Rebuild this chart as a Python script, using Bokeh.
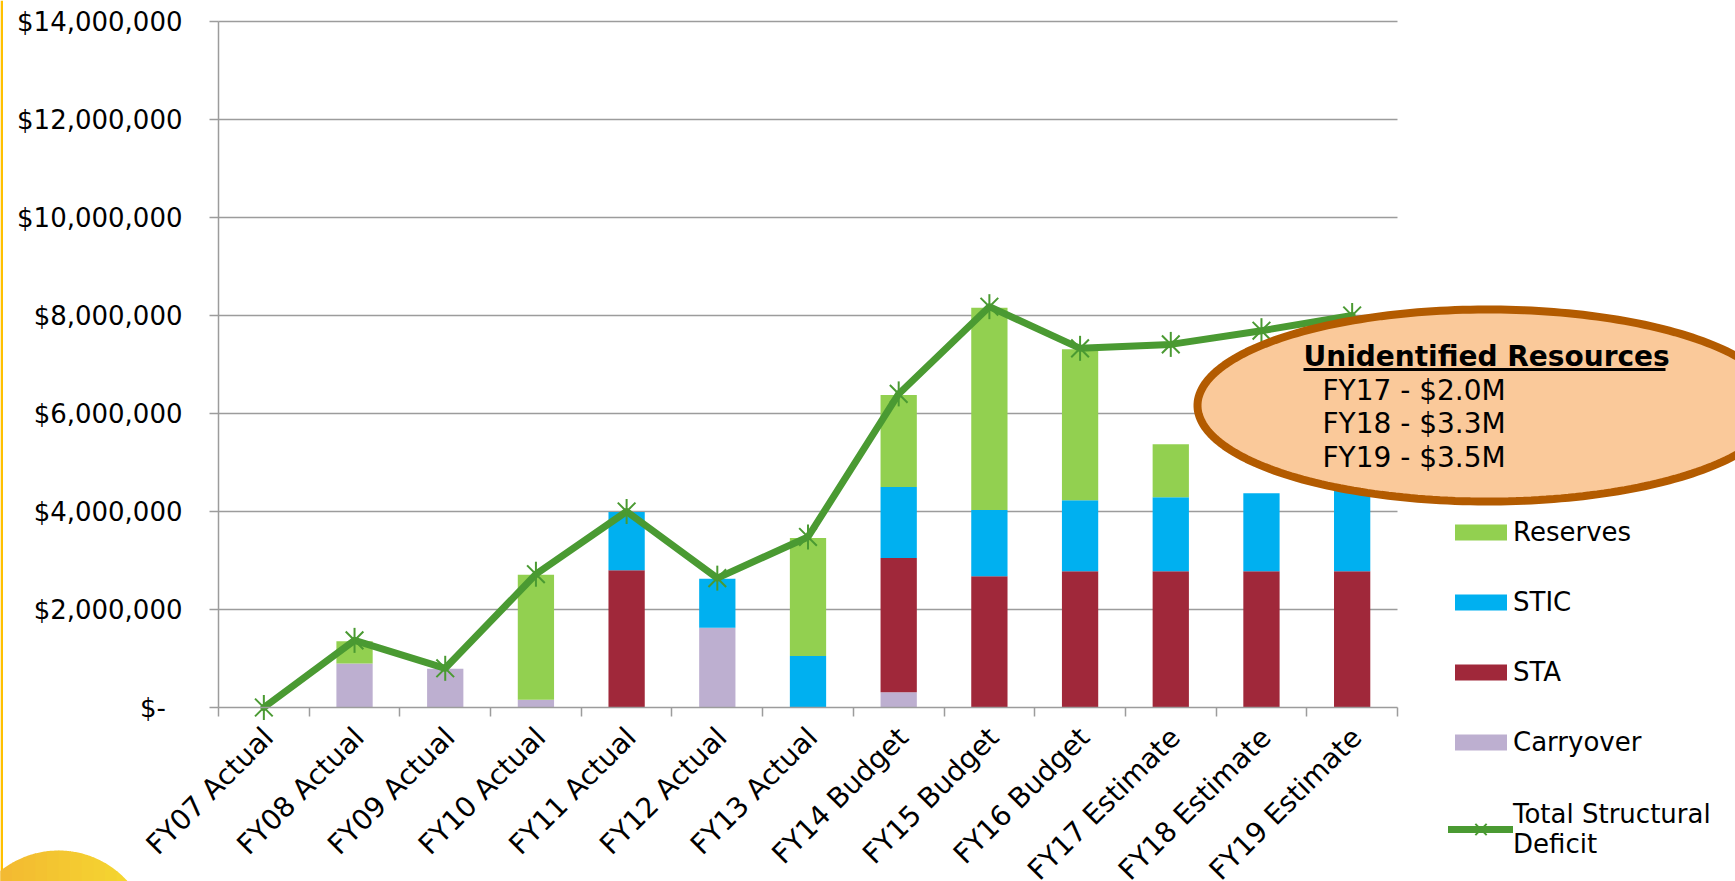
import numpy as np
from math import pi
from bokeh.plotting import figure
from bokeh.models import (ColumnDataSource, Range1d, FixedTicker, NumeralTickFormatter,
                          Legend, LegendItem, PolyAnnotation, BoxAnnotation, Label)
from bokeh.embed import file_html
from bokeh.resources import INLINE

# ---------------- data ----------------
categories = ["FY07 Actual", "FY08 Actual", "FY09 Actual", "FY10 Actual", "FY11 Actual",
              "FY12 Actual", "FY13 Actual", "FY14 Budget", "FY15 Budget", "FY16 Budget",
              "FY17 Estimate", "FY18 Estimate", "FY19 Estimate"]
carryover = [0, 900000, 790000, 160000, 0, 1630000, 0, 310000, 0, 0, 0, 0, 0]
sta = [0, 0, 0, 0, 2800000, 0, 0, 2740000, 2680000, 2780000, 2780000, 2780000, 2780000]
stic = [0, 0, 0, 0, 1190000, 1000000, 1050000, 1450000, 1350000, 1450000, 1510000, 1590000, 1720000]
reserves = [0, 450000, 0, 2550000, 0, 0, 2410000, 1880000, 4130000, 3080000, 1080000, 0, 0]
total_deficit = [0, 1370000, 800000, 2720000, 4000000, 2640000, 3480000, 6400000, 8180000,
                 7330000, 7410000, 7690000, 8000000]
y_ticks = [0, 2000000, 4000000, 6000000, 8000000, 10000000, 12000000, 14000000]
series_names = ["Carryover", "STA", "STIC", "Reserves"]
line_name = "Total Structural\nDeficit"
note_title = "Unidentified Resources"
note_lines = ["FY17 - $2.0M", "FY18 - $3.3M", "FY19 - $3.5M"]

# ---------------- style / layout ----------------
FONT = "DejaVu Sans"
colors = ["#BDAFD0", "#A0283A", "#00B0F0", "#92D050"]
GREEN = "#4A9A32"
GRID = "#9C9C9C"
W, H = 1735, 881
PL, PR, PT, PB = 218, 1397, 21, 707      # plot area (pixels) inside the canvas
LABEL_SHIFT = 0.05                        # shift of rotated category labels (category units)

n = len(categories)
xc = np.arange(n) + 0.5
ppx = (PR - PL) / n
ppy = (PB - PT) / y_ticks[-1]
x_range = Range1d(-PL / ppx, (W - PL) / ppx)
y_range = Range1d(-(H - PB) / ppy, y_ticks[-1] + PT / ppy)

src = ColumnDataSource(dict(x=xc, carryover=carryover, sta=sta, stic=stic,
                            reserves=reserves, total=total_deficit))

p = figure(width=W, height=H, x_range=x_range, y_range=y_range,
           output_backend="svg", toolbar_location=None,
           min_border_left=0, min_border_right=0, min_border_top=0, min_border_bottom=0,
           outline_line_color=None, background_fill_color="white", border_fill_color="white")

# ---------------- slide decorations ----------------
p.add_layout(BoxAnnotation(left=0, right=2.5, top=0, bottom=H, left_units="canvas",
                           right_units="canvas", top_units="canvas", bottom_units="canvas",
                           fill_color="#FFC000", fill_alpha=1, line_alpha=0, level="underlay"))
ccx, ccy, cr = 58, 943, 93
c_left = np.array([242, 178, 50])
c_right = np.array([245, 218, 48])
edges = np.linspace(ccx - cr, ccx + cr, 17)
for k in range(16):
    xs_arc = np.linspace(edges[k], min(edges[k + 1] + 0.8, ccx + cr), 12)
    ys_arc = ccy - np.sqrt(np.maximum(cr ** 2 - (xs_arc - ccx) ** 2, 0))
    col = c_left + (c_right - c_left) * (k / 15)
    hexcol = "#%02x%02x%02x" % tuple(int(round(v)) for v in col)
    p.add_layout(PolyAnnotation(xs=list(xs_arc) + [xs_arc[-1], xs_arc[0]],
                                ys=list(ys_arc) + [H, H],
                                xs_units="canvas", ys_units="canvas", level="underlay",
                                fill_color=hexcol, fill_alpha=1, line_alpha=0))

# ---------------- data glyphs ----------------
keys = ["carryover", "sta", "stic", "reserves"]
bars = p.vbar_stack(keys, x="x", width=0.4, source=src, fill_color=colors, line_color=None)

line_r = p.line("x", "total", source=src, line_width=7, line_color=GREEN,
                line_join="round", line_cap="round")
x_r = p.scatter("x", "total", source=src, marker="x", size=25, line_color=GREEN, line_width=2)
d_r = p.scatter("x", "total", source=src, marker="dash", angle=pi / 2, size=25,
                line_color=GREEN, line_width=2)

# ---------------- y axis ----------------
yax = p.yaxis[0]
yax.fixed_location = 0
yax.bounds = (0, y_ticks[-1])
yax.ticker = FixedTicker(ticks=y_ticks, minor_ticks=[])
yax.formatter = NumeralTickFormatter(format="$0,0")
yax.major_label_overrides = {0: "$-\u00a0\u00a0"}
yax.major_label_text_font = FONT
yax.major_label_text_font_size = "26px"
yax.major_label_text_color = "black"
yax.major_tick_out = 9
yax.major_tick_in = 0
yax.minor_tick_line_color = None
yax.major_tick_line_color = GRID
yax.major_tick_line_width = 1.5
yax.axis_line_color = GRID
yax.axis_line_width = 1.5
yax.major_label_standoff = 27

# ---------------- x axis: labels at centres, ticks at boundaries ----------------
xax = p.xaxis[0]
xax.fixed_location = 0
xax.bounds = (0, n)
label_pos = [float(v) for v in (xc + LABEL_SHIFT)]
xax.ticker = FixedTicker(ticks=label_pos, minor_ticks=list(range(n + 1)))
xax.major_label_overrides = {v: c for v, c in zip(label_pos, categories)}
xax.major_label_orientation = pi / 4
xax.major_label_text_font = FONT
xax.major_label_text_font_size = "28px"
xax.major_label_text_color = "black"
xax.major_label_standoff = 16
xax.major_tick_out = 0
xax.major_tick_in = 0
xax.major_tick_line_color = None
xax.minor_tick_out = 9
xax.minor_tick_in = 0
xax.minor_tick_line_color = GRID
xax.minor_tick_line_width = 1.5
xax.axis_line_color = GRID
xax.axis_line_width = 1.5

# ---------------- horizontal grid limited to the category span ----------------
p.xgrid.grid_line_color = None
yg = p.ygrid[0]
yg.ticker = FixedTicker(ticks=y_ticks[1:], minor_ticks=[])
if "cross_bounds" in yg.properties():
    yg.bounds = (0, y_ticks[-1])
    yg.cross_bounds = (0, n)
    yg.grid_line_color = GRID
    yg.grid_line_width = 1.5
else:
    yg.grid_line_color = None
    p.segment(x0=0, x1=n, y0=y_ticks[1:], y1=y_ticks[1:], line_color=GRID,
              line_width=1.5, level="underlay")

# ---------------- legends ----------------
common = dict(orientation="vertical", glyph_width=65, label_standoff=0, padding=0, margin=0,
              border_line_color=None, background_fill_alpha=0, label_text_font=FONT,
              label_text_font_size="26px", label_text_color="black")
bar_items = [LegendItem(label=series_names[3], renderers=[bars[3]]),
             LegendItem(label=series_names[2], renderers=[bars[2]]),
             LegendItem(label=series_names[1], renderers=[bars[1]]),
             LegendItem(label=series_names[0], renderers=[bars[0]])]
p.add_layout(Legend(items=bar_items, location=(1448, 124), glyph_height=20,
                    label_height=20, spacing=40, **common))
p.add_layout(Legend(items=[LegendItem(label=line_name, renderers=[line_r, x_r, d_r])],
                    location=(1448, 22), glyph_height=40, label_height=20, spacing=0,
                    **common))

# ---------------- callout ellipse ----------------
tt = np.linspace(0, 2 * pi, 240)
p.add_layout(PolyAnnotation(xs=list(1487 + 290 * np.cos(tt)), ys=list(405 + 96 * np.sin(tt)),
                            xs_units="canvas", ys_units="canvas",
                            fill_color="#FAC99A", fill_alpha=1,
                            line_color="#B35B00", line_alpha=1, line_width=8))
p.add_layout(Label(x=1303, y=356, x_units="canvas", y_units="canvas", text=note_title,
                   text_font=FONT, text_font_style="bold", text_font_size="28px",
                   text_baseline="middle", text_align="left", text_color="black"))
p.add_layout(BoxAnnotation(left=1303, right=1665, top=367.5, bottom=370.5, left_units="canvas",
                           right_units="canvas", top_units="canvas", bottom_units="canvas",
                           fill_color="black", fill_alpha=1, line_alpha=0))
for i, t in enumerate(note_lines):
    p.add_layout(Label(x=1322, y=389.5 + 33.5 * i, x_units="canvas", y_units="canvas", text=t,
                       text_font=FONT, text_font_size="28px", text_baseline="middle",
                       text_align="left", text_color="black"))

open("out.html", "w").write(file_html(p, INLINE))
